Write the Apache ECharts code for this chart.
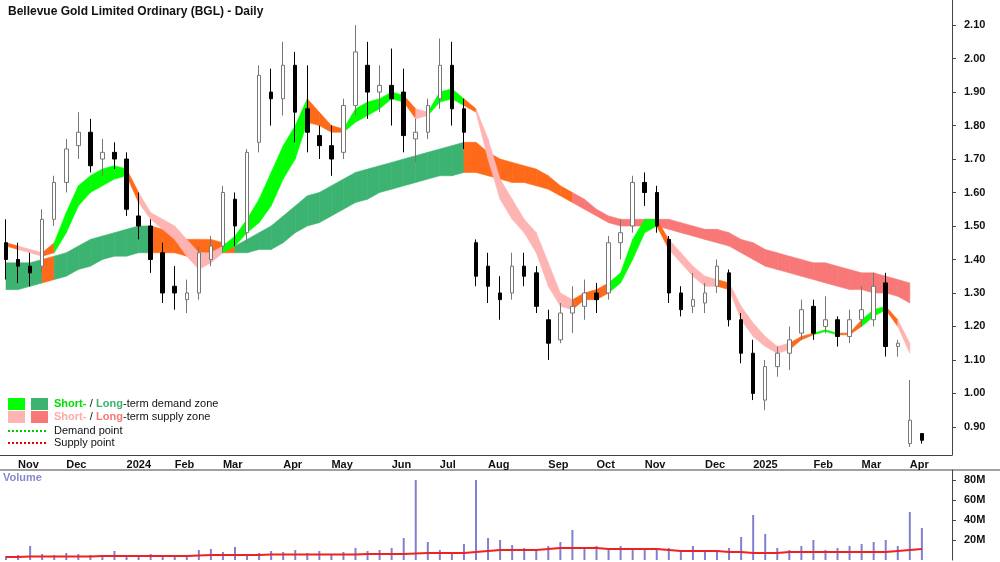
<!DOCTYPE html>
<html><head><meta charset="utf-8">
<script src="https://cdn.jsdelivr.net/npm/echarts@6/dist/echarts.min.js"></script>
<style>html,body{margin:0;padding:0;background:#fff}#c{width:1000px;height:562px}</style>
</head><body><div id="c"></div>
<script>
// Weekly bars (week starting Monday), first week = 2023-10-23
const startDate = '2023-10-23';
const opens  = [1.45,1.40,1.38,1.38,1.52,1.63,1.74,1.78,1.70,1.72,1.70,1.53,1.50,1.42,1.32,1.28,1.30,1.40,1.44,1.58,1.48,1.75,1.90,1.88,1.98,1.85,1.77,1.74,1.72,1.86,1.98,1.90,1.92,1.90,1.76,1.78,1.88,1.98,1.85,1.45,1.38,1.30,1.30,1.38,1.36,1.22,1.16,1.24,1.26,1.30,1.30,1.45,1.50,1.63,1.60,1.46,1.30,1.26,1.27,1.32,1.36,1.22,1.12,0.98,1.08,1.12,1.18,1.26,1.20,1.22,1.17,1.22,1.22,1.33,1.14,0.85,0.88];
const closes = [1.40,1.38,1.36,1.52,1.63,1.73,1.78,1.68,1.72,1.70,1.55,1.50,1.40,1.30,1.30,1.30,1.42,1.44,1.60,1.50,1.72,1.95,1.88,1.98,1.84,1.78,1.74,1.70,1.86,2.02,1.90,1.92,1.88,1.77,1.78,1.86,1.98,1.85,1.78,1.35,1.32,1.28,1.38,1.35,1.26,1.15,1.24,1.26,1.30,1.28,1.45,1.48,1.63,1.60,1.50,1.30,1.25,1.28,1.30,1.38,1.22,1.12,1.00,1.08,1.12,1.16,1.25,1.18,1.22,1.17,1.22,1.25,1.32,1.14,1.15,0.92,0.86];
const lows   = [1.34,1.33,1.32,1.36,1.50,1.60,1.70,1.66,1.65,1.67,1.53,1.46,1.36,1.27,1.25,1.24,1.28,1.38,1.42,1.44,1.45,1.72,1.80,1.83,1.75,1.72,1.70,1.65,1.70,1.83,1.82,1.84,1.80,1.72,1.69,1.76,1.85,1.80,1.73,1.32,1.27,1.22,1.28,1.32,1.24,1.10,1.15,1.18,1.22,1.24,1.28,1.40,1.48,1.56,1.48,1.27,1.23,1.24,1.24,1.30,1.20,1.09,0.98,0.95,1.05,1.07,1.16,1.16,1.18,1.14,1.15,1.20,1.20,1.11,1.11,0.84,0.85];
const highs  = [1.52,1.45,1.42,1.55,1.65,1.76,1.84,1.82,1.76,1.75,1.72,1.60,1.52,1.45,1.38,1.34,1.44,1.47,1.62,1.60,1.73,1.98,1.97,2.05,2.02,1.98,1.80,1.80,1.88,2.10,2.05,1.98,2.03,1.97,1.82,1.88,2.06,2.05,1.88,1.46,1.42,1.35,1.42,1.42,1.38,1.25,1.27,1.32,1.34,1.33,1.47,1.52,1.65,1.66,1.62,1.47,1.32,1.36,1.33,1.40,1.37,1.24,1.16,1.10,1.14,1.20,1.28,1.28,1.29,1.23,1.25,1.32,1.36,1.36,1.16,1.04,0.88];
const volumesM = [4,5,14,6,5,7,6,5,4,9,5,4,6,5,4,5,10,11,8,13,6,7,9,8,10,7,9,6,8,12,9,10,12,22,80,18,10,8,16,80,22,20,15,12,10,14,18,30,12,14,10,14,12,11,10,12,10,14,10,9,12,23,45,26,12,10,14,20,10,12,14,16,18,20,14,48,32];
const volMaM   = [3,3,3.5,3.5,3.5,3.5,3.5,3.5,4,4,4,4,4,4,4,4,4.5,5,5,5,5,5,5.5,5.5,5.5,5.5,5.5,5.5,5.5,5.5,6,6,6,6,6.5,7,7,7,7,8,9,10,10,10,10,11,12,12,12,12,11,11,11,11,11,10,9,9,9,9,8,8,7,7,7,8,8,8,8,8,8,8,8,8,9,10,11];
// Long-term zone edges and colour codes (G=long demand, O=transition, R=long supply)
const longHi = [1.39,1.39,1.39,1.40,1.41,1.42,1.44,1.46,1.47,1.48,1.49,1.50,1.50,1.49,1.47,1.46,1.46,1.46,1.45,1.44,1.46,1.48,1.50,1.53,1.56,1.59,1.60,1.62,1.64,1.66,1.67,1.68,1.69,1.70,1.71,1.72,1.73,1.74,1.75,1.75,1.72,1.70,1.69,1.68,1.67,1.65,1.62,1.60,1.58,1.55,1.53,1.52,1.52,1.52,1.52,1.52,1.51,1.50,1.49,1.49,1.48,1.46,1.45,1.43,1.42,1.41,1.40,1.39,1.39,1.38,1.37,1.36,1.36,1.35,1.34,1.33];
const longLo = [1.31,1.31,1.32,1.33,1.34,1.35,1.37,1.38,1.40,1.41,1.41,1.42,1.42,1.42,1.42,1.41,1.41,1.42,1.42,1.42,1.42,1.43,1.43,1.45,1.48,1.50,1.51,1.53,1.55,1.57,1.58,1.60,1.61,1.62,1.63,1.64,1.65,1.65,1.66,1.66,1.65,1.64,1.63,1.63,1.62,1.61,1.59,1.57,1.55,1.53,1.51,1.50,1.50,1.50,1.50,1.49,1.48,1.47,1.46,1.45,1.44,1.42,1.40,1.38,1.37,1.36,1.35,1.34,1.33,1.32,1.31,1.31,1.30,1.30,1.29,1.27];
const longCol = 'GGGOGGGGGGGGOOOOOOOGGGGGGGGGGGGGGGGGGGOOOOOOOOORRRRRRRRRRRRRRRRRRRRRRRRRRRR';
// Short-term zone edges and colour codes (g=short demand, O=transition, P=short supply)
const shortHi = [1.45,1.44,1.43,1.42,1.45,1.54,1.62,1.65,1.67,1.68,1.67,1.60,1.54,1.52,1.50,1.46,1.42,1.42,1.44,1.47,1.52,1.58,1.66,1.74,1.80,1.88,1.84,1.80,1.79,1.85,1.87,1.88,1.90,1.89,1.85,1.84,1.90,1.91,1.88,1.85,1.76,1.64,1.58,1.52,1.48,1.39,1.30,1.28,1.30,1.31,1.33,1.36,1.46,1.52,1.52,1.46,1.42,1.38,1.35,1.34,1.33,1.26,1.21,1.17,1.14,1.15,1.17,1.18,1.19,1.18,1.18,1.22,1.25,1.26,1.22,1.15];
const shortLo = [1.44,1.43,1.42,1.41,1.42,1.48,1.56,1.60,1.62,1.64,1.65,1.57,1.52,1.49,1.46,1.41,1.37,1.39,1.42,1.44,1.48,1.51,1.56,1.64,1.70,1.81,1.80,1.78,1.78,1.81,1.83,1.85,1.88,1.87,1.82,1.83,1.87,1.88,1.86,1.84,1.70,1.58,1.52,1.48,1.42,1.32,1.26,1.25,1.28,1.28,1.30,1.33,1.40,1.48,1.50,1.43,1.39,1.35,1.32,1.32,1.31,1.22,1.17,1.14,1.12,1.13,1.16,1.175,1.185,1.175,1.175,1.20,1.23,1.25,1.20,1.12];
const shortCol = 'OPPOggggggOPPPPPPPgggggggOOOgggggOPgggOPPPPPPPPOOOggggOPPPPOPPPPPOOggOOggOPP';
const priceTicks = [0.9,1.0,1.1,1.2,1.3,1.4,1.5,1.6,1.7,1.8,1.9,2.0,2.1];
const volTicks = [20,40,60,80];

const COLORS = {G:'#3cb371', O:'#ff6a1a', R:'#f87878', g:'#00ff00', P:'#ffb4b4'};
const nCat = opens.length + 2;
const months = ['Jan','Feb','Mar','Apr','May','Jun','Jul','Aug','Sep','Oct','Nov','Dec'];
const cats = [], fridays = [];
const d0 = new Date(startDate + 'T00:00:00Z');
for (let i = 0; i < nCat; i++) {
  const d = new Date(d0.getTime() + i*7*86400000); cats.push(d.toISOString().slice(0,10));
  fridays.push(new Date(d.getTime() + 4*86400000).toISOString().slice(0,10));
}
function isMonthStart(i){ if(i===0) return false; return fridays[i].slice(5,7)!==fridays[i-1].slice(5,7); }
function monthLabel(v, i){ const f = fridays[i]; const m=+f.slice(5,7); return m===1 ? f.slice(0,4) : months[m-1]; }

const candle = opens.map((o,i)=>[o, closes[i], lows[i], highs[i]]);
function bandData(lo, hi, col){ const r=[]; for(let i=0;i<lo.length-1;i++) r.push([i, lo[i], hi[i], lo[i+1], hi[i+1], col[i]]); return r; }
function bandSeries(lo,hi,col){
  const data = bandData(lo,hi,col);
  return {type:'custom', xAxisIndex:0, yAxisIndex:0, data:data, encode:{x:0,y:[1,2]}, silent:true, z:1,
    renderItem:function(params, api){
      const i=api.value(0);
      const a=api.coord([i,api.value(2)]), b=api.coord([i+1,api.value(4)]), c=api.coord([i+1,api.value(3)]), d=api.coord([i,api.value(1)]);
      const code=data[params.dataIndex][5];
      return {type:'polygon', shape:{points:[a,b,c,d]}, style:{fill:COLORS[code], stroke:COLORS[code], lineWidth:0.6}};
    }};
}
const vol = volumesM.map(v=>v*1e6), volMa = volMaM.map(v=>v*1e6);

const chart = echarts.init(document.getElementById('c'));
chart.setOption({
  animation:false,
  backgroundColor:'#fff',
  title:{text:'Bellevue Gold Limited Ordinary (BGL) - Daily', left:3, top:1, textStyle:{fontSize:12, fontWeight:'bold', color:'#111', fontFamily:'Liberation Sans, Arial'}},
  grid:[{left:0, right:48, top:0, bottom:107}, {left:0, right:48, top:470, bottom:2}],
  xAxis:[
    {type:'category', data:cats, gridIndex:0, boundaryGap:true,
      axisLine:{lineStyle:{color:'#444'}},
      axisTick:{interval:(i)=>isMonthStart(i), length:5, lineStyle:{color:'#444'}},
      axisLabel:{interval:(i)=>isMonthStart(i), formatter:monthLabel, align:'left', margin:4, color:'#111', fontSize:11, fontWeight:'bold', fontFamily:'Liberation Sans, Arial'},
      splitLine:{show:false}},
    {type:'category', data:cats, gridIndex:1, boundaryGap:true, axisLine:{show:false}, axisTick:{show:false}, axisLabel:{show:false}}
  ],
  yAxis:[
    {type:'value', gridIndex:0, position:'right', min:0.816, max:2.175, scale:true,
      axisLine:{show:true, lineStyle:{color:'#444'}}, splitLine:{show:false},
      axisTick:{show:true, customValues:priceTicks, length:4, lineStyle:{color:'#444'}},
      axisLabel:{customValues:priceTicks, formatter:v=>v.toFixed(2), margin:12, color:'#111', fontSize:11, fontWeight:'bold', fontFamily:'Liberation Sans, Arial'}},
    {type:'value', gridIndex:1, position:'right', min:0, max:90e6,
      axisLine:{show:true, lineStyle:{color:'#444'}}, splitLine:{show:false},
      axisTick:{show:true, customValues:volTicks.map(v=>v*1e6), length:4, lineStyle:{color:'#444'}},
      axisLabel:{customValues:volTicks.map(v=>v*1e6), formatter:v=>(v/1e6)+'M', margin:12, color:'#111', fontSize:11, fontWeight:'bold', fontFamily:'Liberation Sans, Arial'}}
  ],
  graphic:[
    {type:'line', shape:{x1:0,y1:470,x2:1000,y2:470}, style:{stroke:'#444', lineWidth:1}},
    {type:'text', left:3, top:472, style:{text:'Volume', fill:'#8888cc', font:'bold 11px Liberation Sans, Arial'}},
    {type:'rect', shape:{x:8,y:398,width:17,height:12}, style:{fill:COLORS.g}},
    {type:'rect', shape:{x:31,y:398,width:17,height:12}, style:{fill:COLORS.G}},
    {type:'rect', shape:{x:8,y:411,width:17,height:12}, style:{fill:COLORS.P}},
    {type:'rect', shape:{x:31,y:411,width:17,height:12}, style:{fill:COLORS.R}},
    {type:'line', shape:{x1:8,y1:431,x2:48,y2:431}, style:{stroke:'#00cc00', lineWidth:2, lineDash:[2,2]}},
    {type:'line', shape:{x1:8,y1:443,x2:48,y2:443}, style:{stroke:'#ee0000', lineWidth:2, lineDash:[2,2]}},
    {type:'text', left:54, top:398, style:{rich:{a:{fill:'#00dd00',font:'bold 11px Liberation Sans, Arial'},b:{fill:'#3cb371',font:'bold 11px Liberation Sans, Arial'},c:{fill:'#111',font:'11px Liberation Sans, Arial'}}, text:'{a|Short-} {c|/} {b|Long}{c|-term demand zone}'}},
    {type:'text', left:54, top:411, style:{rich:{a:{fill:'#ffaaaa',font:'bold 11px Liberation Sans, Arial'},b:{fill:'#f87878',font:'bold 11px Liberation Sans, Arial'},c:{fill:'#111',font:'11px Liberation Sans, Arial'}}, text:'{a|Short-} {c|/} {b|Long}{c|-term supply zone}'}},
    {type:'text', left:54, top:425, style:{text:'Demand point', fill:'#111', font:'11px Liberation Sans, Arial'}},
    {type:'text', left:54, top:437, style:{text:'Supply point', fill:'#111', font:'11px Liberation Sans, Arial'}}
  ],
  series:[
    bandSeries(longLo,longHi,longCol),
    bandSeries(shortLo,shortHi,shortCol),
    {type:'candlestick', xAxisIndex:0, yAxisIndex:0, data:candle, barWidth:4, z:5,
      itemStyle:{color:'#ffffff', color0:'#000000', borderColor:'#777777', borderColor0:'#000000', borderWidth:1}},
    {type:'bar', xAxisIndex:1, yAxisIndex:1, data:vol, barWidth:2, itemStyle:{color:'#8080d0'}},
    {type:'line', xAxisIndex:1, yAxisIndex:1, data:volMa, symbol:'none', lineStyle:{color:'#ee2222', width:2}}
  ]
});
</script></body></html>
